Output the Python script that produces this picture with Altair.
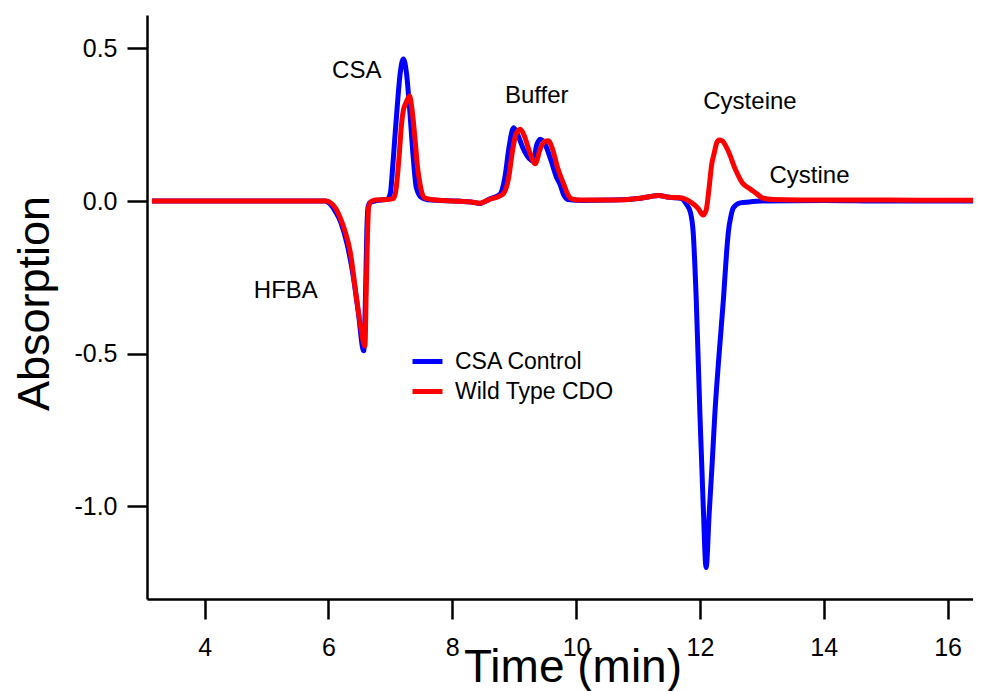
import altair as alt
import pandas as pd

FONT = "Liberation Sans, Arial, Helvetica, sans-serif"

# ---- CSA Control (blue) ----
blue_x = [3.15, 4.0, 5.0, 5.9, 5.95, 6.0, 6.1, 6.2, 6.3, 6.4, 6.48, 6.57, 6.6, 6.62, 6.64, 6.67, 6.75,
          6.85, 6.95, 7.0, 7.03, 7.07, 7.11, 7.16, 7.21, 7.26, 7.31, 7.37, 7.42, 7.5, 7.6,
          7.8, 8.1, 8.3, 8.45, 8.61, 8.77, 8.85, 8.92, 8.99, 9.05, 9.15, 9.24, 9.31, 9.36,
          9.42, 9.5, 9.6, 9.68, 9.74, 9.8, 9.87, 10.1, 10.6, 11.0, 11.2, 11.33, 11.5, 11.7,
          11.78, 11.85, 11.89, 11.94, 12.0, 12.05, 12.1, 12.15, 12.2, 12.24, 12.31, 12.38,
          12.43, 12.46, 12.5, 12.54, 12.65, 12.8, 12.97, 14.0, 15.0, 16.55]
blue_y = [0.0, 0.0, 0.0, 0.0, 0.0, -0.005, -0.03, -0.07, -0.14, -0.245, -0.36, -0.49, -0.3, -0.1, -0.02, -0.005, 0.0,
          0.003, 0.006, 0.025, 0.09, 0.2, 0.306, 0.42, 0.465, 0.42, 0.306, 0.142, 0.044, 0.012, 0.004,
          0.002, 0.0, -0.003, -0.008, 0.007, 0.022, 0.077, 0.18, 0.24, 0.22, 0.17, 0.14, 0.131, 0.18,
          0.202, 0.185, 0.13, 0.08, 0.055, 0.02, 0.005, 0.002, 0.003, 0.008, 0.015, 0.018, 0.012, 0.008,
          -0.01, -0.04, -0.1, -0.32, -0.7, -0.98, -1.2, -1.02, -0.85, -0.7, -0.5, -0.32,
          -0.17, -0.1, -0.05, -0.022, -0.006, -0.003, 0.0, 0.002, 0.0, 0.0]

# ---- Wild Type CDO (red) ----
red_x = [3.15, 4.0, 5.0, 5.9, 5.97, 6.03, 6.12, 6.19, 6.27, 6.35, 6.46, 6.52, 6.59, 6.61, 6.63, 6.65, 6.7,
         6.8, 6.95, 7.05, 7.09, 7.14, 7.18, 7.21, 7.25, 7.31, 7.35, 7.4, 7.44, 7.48, 7.52, 7.56, 7.7,
         8.0, 8.3, 8.45, 8.6, 8.75, 8.83, 8.91, 8.97, 9.03, 9.1, 9.17, 9.25, 9.34, 9.42, 9.49,
         9.55, 9.62, 9.7, 9.8, 9.87, 9.93, 10.05, 10.6, 11.0, 11.2, 11.33, 11.5, 11.68, 11.84,
         11.97, 12.05, 12.1, 12.15, 12.19, 12.23, 12.27, 12.31, 12.36, 12.45, 12.58, 12.69, 12.8,
         12.91, 13.02, 13.18, 14.0, 15.0, 16.55]
red_y = [0.0, 0.0, 0.0, 0.0, 0.0, -0.005, -0.025, -0.055, -0.1, -0.164, -0.328, -0.41, -0.475, -0.3, -0.12, -0.02, 0.0,
         0.004, 0.005, 0.008, 0.036, 0.142, 0.25, 0.297, 0.32, 0.344, 0.3, 0.2, 0.11, 0.055, 0.02, 0.01, 0.004,
         0.0, -0.003, -0.007, 0.005, 0.015, 0.025, 0.075, 0.16, 0.22, 0.235, 0.21, 0.16, 0.122, 0.17, 0.195,
         0.197, 0.17, 0.11, 0.055, 0.02, 0.007, 0.003, 0.003, 0.008, 0.015, 0.018, 0.012, 0.011, -0.002,
         -0.024, -0.046, -0.03, 0.047, 0.12, 0.156, 0.19, 0.2, 0.197, 0.167, 0.1, 0.058, 0.041,
         0.025, 0.009, 0.005, 0.003, 0.003, 0.002]

series_names = ["CSA Control", "Wild Type CDO"]
series_colors = ["#0000FF", "#FF0000"]

# ---- peak annotations ----
ann_labels = ["CSA", "Buffer", "HFBA", "Cysteine", "Cystine"]
ann_x = [6.457, 9.364, 5.312, 12.808, 13.769]
ann_y = [0.402, 0.322, -0.319, 0.300, 0.058]

x_ticks = [4, 6, 8, 10, 12, 14, 16]
y_ticks = [-1.0, -0.5, 0.0, 0.5]

blue_df = pd.DataFrame({"t": blue_x, "a": blue_y, "s": series_names[0]})
red_df = pd.DataFrame({"t": red_x, "a": red_y, "s": series_names[1]})
ann_df = pd.DataFrame({"t": ann_x, "a": ann_y, "label": ann_labels})

x_scale = alt.Scale(domain=[3.07, 16.41], nice=False, zero=False)
y_scale = alt.Scale(domain=[-1.303, 0.609], nice=False, zero=False)

x_axis = alt.Axis(
    values=x_ticks, format="d", grid=False, labelFlush=False,
    tickSize=20, tickWidth=2.5, tickColor="black",
    domainWidth=2.5, domainColor="black",
    labelFont=FONT, labelFontSize=25, labelColor="black",
    labelPadding=36, labelBaseline="alphabetic",
    title="Time (min)", titleFont=FONT, titleFontSize=46, titleFontWeight="normal",
    titleColor="black", titleX=425.5, titleY=82, titleBaseline="alphabetic", titleAlign="center",
)
y_axis = alt.Axis(
    values=y_ticks, grid=False, labelFlush=False,
    labelExpr="datum.value < 0 ? '-' + format(-datum.value, '.1f') : format(datum.value, '.1f')",
    tickSize=20, tickWidth=2.5, tickColor="black",
    domainWidth=2.5, domainColor="black",
    labelFont=FONT, labelFontSize=25, labelColor="black", labelPadding=10,
    title="Absorption", titleFont=FONT, titleFontSize=45, titleFontWeight="normal",
    titleColor="black", titleAngle=270, titleX=-98.5, titleY=288,
    titleBaseline="alphabetic", titleAlign="center",
)

color = alt.Color(
    "s:N",
    scale=alt.Scale(domain=series_names, range=series_colors),
    legend=alt.Legend(
        title=None, orient="none", legendX=263, legendY=329,
        symbolType="stroke", symbolSize=900, symbolStrokeWidth=5,
        labelFont=FONT, labelFontSize=23, labelColor="black", labelOffset=10,
        rowPadding=-3, padding=0,
    ),
)

def line_layer(df):
    return alt.Chart(df).mark_line(strokeWidth=5, interpolate="monotone", clip=True).encode(
        x=alt.X("t:Q", scale=x_scale, axis=x_axis),
        y=alt.Y("a:Q", scale=y_scale, axis=y_axis),
        color=color,
        order=alt.Order("t:Q"),
    )

text_layer = alt.Chart(ann_df).mark_text(
    font=FONT, fontSize=24, color="black", align="center", baseline="alphabetic"
).encode(
    x=alt.X("t:Q", scale=x_scale),
    y=alt.Y("a:Q", scale=y_scale),
    text="label:N",
)

chart = alt.layer(line_layer(blue_df), line_layer(red_df), text_layer).properties(
    width=826, height=584,
    autosize=alt.AutoSizeParams(type="none"),
    padding={"left": 139, "top": 7, "right": 0, "bottom": 92},
).configure(background="white").configure_view(stroke=None)

chart.save("out.html", embed_options={"renderer": "svg", "actions": False})
